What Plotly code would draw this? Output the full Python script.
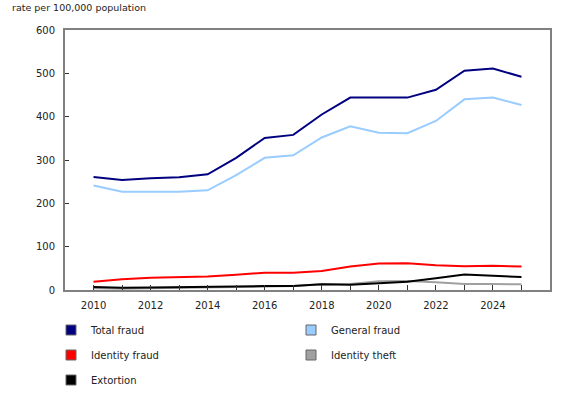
import plotly.graph_objects as go

years = list(range(2010, 2026))
total_fraud = [261, 254, 258, 260, 267, 305, 351, 358, 405, 444, 444, 444, 462, 506, 511, 492]
general_fraud = [241, 227, 227, 227, 230, 265, 305, 311, 352, 378, 363, 362, 390, 440, 444, 427]
identity_fraud = [19, 25, 28, 29, 31, 35, 40, 40, 44, 54, 61, 62, 57, 55, 56, 54]
identity_theft = [4, 3, 4, 5, 6, 7, 8, 9, 13, 14, 20, 21, 18, 14, 14, 13]
extortion = [7, 5, 6, 7, 8, 8, 9, 9, 13, 12, 16, 19, 27, 36, 33, 30]

series = [
    ("Total fraud", total_fraud, "#000080"),
    ("General fraud", general_fraud, "#99ccff"),
    ("Identity fraud", identity_fraud, "#ff0000"),
    ("Identity theft", identity_theft, "#a0a0a0"),
    ("Extortion", extortion, "#000000"),
]
# legend slot (column, row) for each series
legend_pos = [(0, 0), (1, 0), (0, 1), (1, 1), (0, 2)]

font = "DejaVu Sans, Verdana, sans-serif"
PH = 260.0
PW = 485.0

fig = go.Figure()
for name, vals, col in series:
    fig.add_trace(go.Scatter(x=years, y=vals, mode="lines", name=name,
                             line=dict(color=col, width=2), showlegend=False))

legends = {}
for i, (name, vals, col) in enumerate(series):
    key = "legend" if i == 0 else f"legend{i + 1}"
    c, r = legend_pos[i]
    xpix = 65 - 14 + c * 240
    ypix = 330 + r * 25
    legends[key] = dict(orientation="h", x=(xpix - 65) / PW, xanchor="left",
                        y=(290 - ypix) / PH, yanchor="middle", bgcolor="rgba(0,0,0,0)",
                        font=dict(size=10, family=font, color="#222222"), itemwidth=30)
    fig.add_trace(go.Scatter(x=[None], y=[None], mode="markers", name=name, legend=key,
                             marker=dict(symbol="square", size=10, color=col,
                                         line=dict(color="#666666", width=1))))

fig.update_layout(
    width=580, height=395,
    margin=dict(l=65, r=30, t=30, b=105, autoexpand=False),
    plot_bgcolor="white", paper_bgcolor="white",
    font=dict(family=font, size=10, color="#222222"),
    showlegend=True,
    **legends,
)
fig.add_annotation(text="rate per 100,000 population", xref="paper", yref="paper",
                   x=-55 / PW, y=1 + 23 / PH, xanchor="left", yanchor="middle",
                   showarrow=False, font=dict(size=9.5, family=font, color="#222222"))
fig.update_xaxes(range=[2009, 2026], tickmode="array", tickvals=years,
                 ticktext=[str(y) if y % 2 == 0 else "" for y in years],
                 ticks="inside", ticklen=5, tickcolor="#333333", tickwidth=1,
                 showline=True, linecolor="#808080", linewidth=2, mirror=True,
                 showgrid=False, zeroline=False, ticklabelstandoff=5)
fig.update_yaxes(range=[0, 600], dtick=100, ticks="inside", ticklen=4, tickcolor="#333333",
                 showline=True, linecolor="#808080", linewidth=2, mirror=True,
                 showgrid=False, zeroline=False, ticklabelstandoff=6)

fig.write_html("out.html")
